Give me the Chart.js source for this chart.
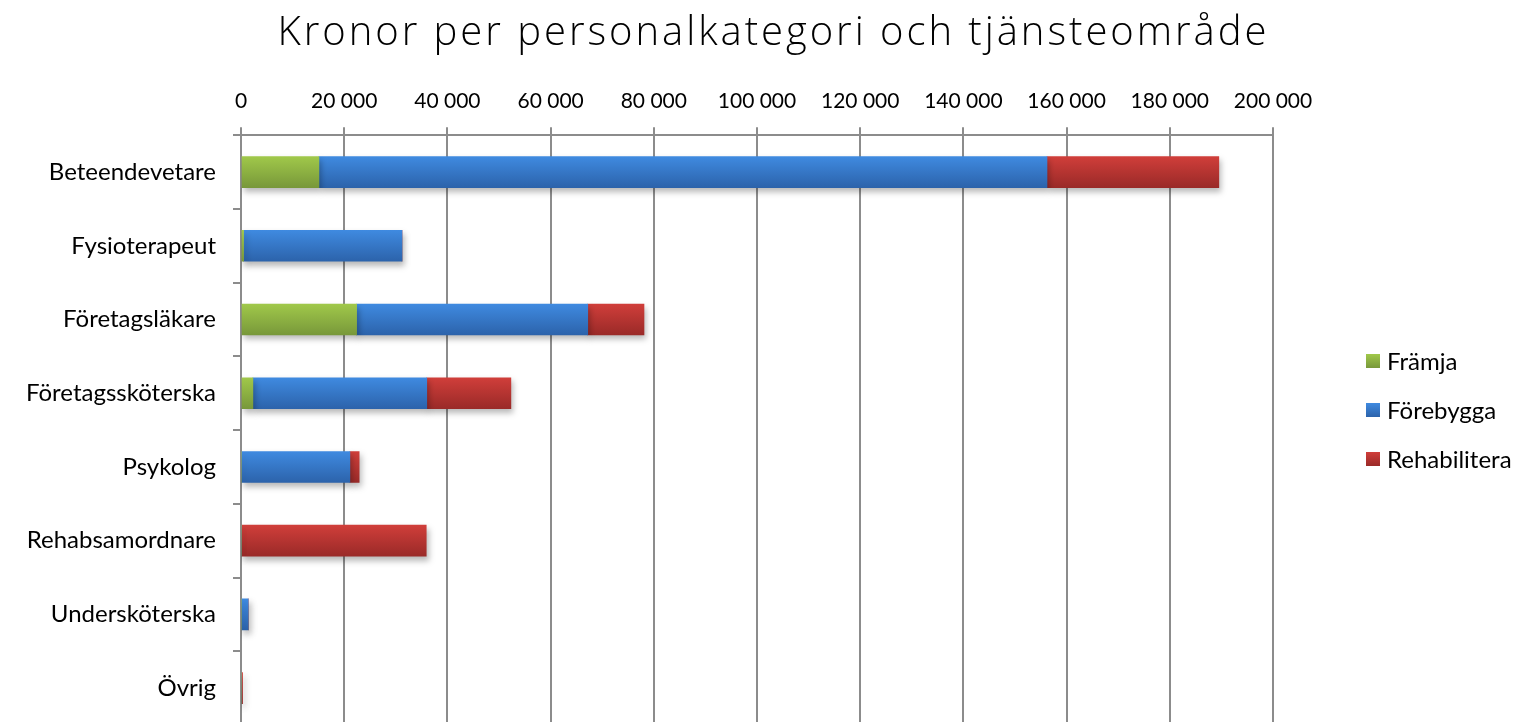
<!DOCTYPE html>
<html><head><meta charset="utf-8">
<script src="https://cdn.jsdelivr.net/npm/chart.js@4.4.1/dist/chart.umd.min.js"></script>
<style>html,body{margin:0;padding:0;background:#fff;overflow:hidden}#wrap{width:1523px;height:726px}</style>
</head><body><div id="wrap"><canvas id="c" width="1523" height="726"></canvas></div>
<script>
const titleText = 'Kronor per personalkategori och tjänsteområde';
const categories = ['Beteendevetare','Fysioterapeut','Företagsläkare','Företagssköterska','Psykolog','Rehabsamordnare','Undersköterska','Övrig'];
const seriesNames = ['Främja','Förebygga','Rehabilitera'];
const framja = [15100, 500, 22400, 2300, 0, 0, 0, 0];
const forebygga = [141100, 30700, 44800, 33700, 21100, 0, 1400, 0];
const rehabilitera = [33300, 0, 10900, 16300, 1800, 35900, 0, 300];
const xTicks = [0,20000,40000,60000,80000,100000,120000,140000,160000,180000,200000];

const colors = [['#a0c84a','#78983a'],['#3f8ae0','#2c63ab'],['#d03e3a','#9a2a28']];
const BAR = 31;
const FONT = 'Lato, "Open Sans", sans-serif';
function grad(pair){
  return (ctx)=>{
    const chart = ctx.chart; const y = chart.scales && chart.scales.y;
    if(!y || ctx.dataIndex===undefined) return pair[0];
    const cy = y.getPixelForValue(ctx.dataIndex);
    if(!isFinite(cy)) return pair[0];
    const g = chart.ctx.createLinearGradient(0, cy-BAR/2, 0, cy+BAR/2);
    g.addColorStop(0, pair[0]); g.addColorStop(1, pair[1]);
    return g;
  };
}
function fmt(v){ return String(v).replace(/\B(?=(\d{3})+(?!\d))/g,' '); }

const shadow = {
  id:'shadow',
  beforeDatasetsDraw(chart){ const c=chart.ctx; c.save(); c.shadowColor='rgba(0,0,0,0.28)'; c.shadowBlur=6; c.shadowOffsetX=2; c.shadowOffsetY=4; },
  afterDatasetsDraw(chart){ chart.ctx.restore(); }
};
const titlePlugin = {
  id:'customTitle',
  afterDraw(chart){
    const c = chart.ctx; c.save();
    c.font = '300 40px "Open Sans", Lato, sans-serif';
    c.fillStyle = '#000'; c.textAlign='left'; c.textBaseline='alphabetic';
    const target = 989;
    const w = c.measureText(titleText).width;
    const ls = Math.max(0, (target - w) / (titleText.length - 1));
    if ('letterSpacing' in c) c.letterSpacing = ls + 'px';
    const total = ('letterSpacing' in c) ? target : w;
    c.fillText(titleText, 772 - total/2, 45);
    c.restore();
  }
};
const legendPlugin = {
  id:'customLegend',
  afterDraw(chart){
    const c = chart.ctx; c.save();
    const x0 = 1366, ys=[361,410,459];
    chart.data.datasets.forEach((ds,i)=>{
      const cy = ys[i];
      const g = c.createLinearGradient(0,cy-7,0,cy+7);
      g.addColorStop(0,colors[i][0]); g.addColorStop(1,colors[i][1]);
      c.fillStyle=g; c.fillRect(x0,cy-7,14,14);
      c.fillStyle='#000'; c.font='24px ' + FONT; c.textBaseline='middle'; c.textAlign='left';
      c.fillText(ds.label, x0+21, cy+1);
    });
    c.restore();
  }
};

new Chart(document.getElementById('c'), {
  type:'bar',
  data:{ labels:categories, datasets:[
    {label:seriesNames[0], data:framja, backgroundColor:grad(colors[0])},
    {label:seriesNames[1], data:forebygga, backgroundColor:grad(colors[1])},
    {label:seriesNames[2], data:rehabilitera, backgroundColor:grad(colors[2])}
  ]},
  options:{
    indexAxis:'y', responsive:false, animation:false,
    barThickness:BAR,
    layout:{padding:{left:0,right:250,top:76,bottom:1}},
    plugins:{ legend:{display:false}, tooltip:{enabled:false}, title:{display:false} },
    scales:{
      x:{ position:'top', stacked:true, min:0, max:200000,
        afterBuildTicks(s){ s.ticks = xTicks.map(v=>({value:v})); },
        ticks:{ callback:(v)=>fmt(v), color:'#000', font:{family:FONT, size:21}, maxRotation:0, padding:13 },
        grid:{ color:'#8c8c8c', lineWidth:2, tickLength:8, drawTicks:true },
        border:{ display:true, color:'#8c8c8c', width:2 }
      },
      y:{ stacked:true,
        afterFit(s){ s.width = 241; s.paddingTop = 0; s.paddingBottom = 0; },
        ticks:{ color:'#000', font:{family:FONT, size:24}, padding:17 },
        grid:{ offset:true, drawOnChartArea:false, drawTicks:true, tickLength:8, color:'#8c8c8c', lineWidth:2 },
        border:{ display:true, color:'#8c8c8c', width:2 }
      }
    }
  },
  plugins:[shadow, titlePlugin, legendPlugin]
});
</script></body></html>
